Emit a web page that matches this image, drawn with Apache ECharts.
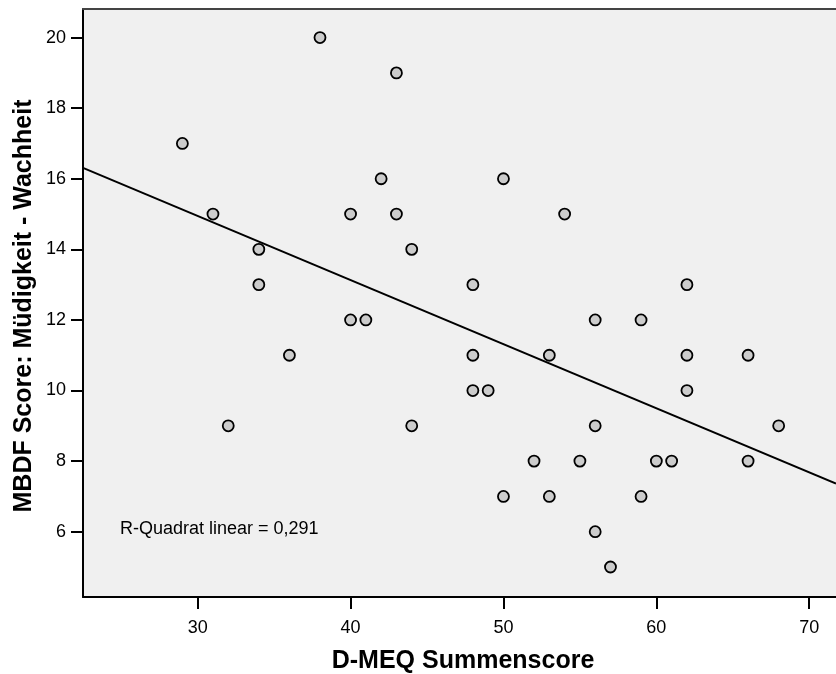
<!DOCTYPE html>
<html>
<head>
<meta charset="utf-8">
<script src="https://cdn.jsdelivr.net/npm/echarts@6/dist/echarts.min.js"></script>
<style>html,body{margin:0;padding:0;background:#fff;}#c{width:836px;height:674px;}</style>
</head>
<body>
<div id="c"></div>
<script>
// D-MEQ Summenscore (x) and MBDF Score: Müdigkeit - Wachheit (y)
var meqScores = [29,31,32,34,34,36,38,40,40,41,42,43,43,44,44,48,48,48,49,50,50,52,53,53,54,55,56,56,56,57,59,59,60,61,62,62,62,66,66,68];
var mbdfScores = [17,15,9,14,13,11,20,15,12,12,16,19,15,14,9,13,11,10,10,16,7,8,11,7,15,8,12,9,6,5,12,7,8,8,13,11,10,11,8,9];
var xTicks = [30,40,50,60,70];
var yTicks = [6,8,10,12,14,16,18,20];
var xTitle = 'D-MEQ Summenscore';
var yTitle = 'MBDF Score: Müdigkeit - Wachheit';
var r2Label = 'R-Quadrat linear = 0,291';

var xMin = 22.5, xMax = 71.75, yMin = 4.15, yMax = 20.81;

var points = meqScores.map(function (x, i) { return [x, mbdfScores[i]]; });
// least-squares fit
var n = points.length, sx = 0, sy = 0, sxx = 0, sxy = 0;
points.forEach(function (p) { sx += p[0]; sy += p[1]; sxx += p[0]*p[0]; sxy += p[0]*p[1]; });
var slope = (n*sxy - sx*sy) / (n*sxx - sx*sx);
var icpt = (sy - slope*sx) / n;
var fitLine = [[xMin, icpt + slope*xMin], [xMax, icpt + slope*xMax]];

var FONT = 'Liberation Sans, Arial, Helvetica, sans-serif';
var chart = echarts.init(document.getElementById('c'), null, {renderer: 'canvas'});
chart.setOption({
  animation: false,
  backgroundColor: '#ffffff',
  grid: [{left: 83, top: 9, right: 0, bottom: 77, show: true, backgroundColor: '#f0f0f0', borderWidth: 0, containLabel: false}],
  xAxis: [{
    type: 'value', min: xMin, max: xMax, position: 'bottom',
    axisLine: {show: true, onZero: false, lineStyle: {color: '#000', width: 2}},
    axisTick: {show: true, length: 12, lineStyle: {color: '#000', width: 2}, customValues: xTicks},
    axisLabel: {show: true, margin: 22, color: '#000', fontSize: 18, fontFamily: FONT, customValues: xTicks},
    splitLine: {show: false}
  }, {
    type: 'value', min: xMin, max: xMax, position: 'top',
    axisLine: {show: true, onZero: false, lineStyle: {color: '#444', width: 2}},
    axisTick: {show: false}, axisLabel: {show: false}, splitLine: {show: false}
  }],
  yAxis: [{
    type: 'value', min: yMin, max: yMax,
    axisLine: {show: true, onZero: false, lineStyle: {color: '#000', width: 2}},
    axisTick: {show: true, length: 12, lineStyle: {color: '#000', width: 2}, customValues: yTicks},
    axisLabel: {show: true, margin: 17, color: '#000', fontSize: 18, fontFamily: FONT, customValues: yTicks},
    splitLine: {show: false}
  }],
  series: [{
    type: 'line', data: fitLine, symbol: 'none', silent: true,
    lineStyle: {color: '#000', width: 2}, z: 2
  }, {
    type: 'scatter', data: points, symbol: 'circle', symbolSize: 11,
    itemStyle: {color: '#cccccc', borderColor: '#000', borderWidth: 1.8, opacity: 1}, z: 3
  }],
  graphic: [{
    type: 'text', left: 120, top: 520,
    style: {text: r2Label, font: '18px ' + FONT, fill: '#000'}
  }, {
    type: 'text', x: 463, y: 661,
    style: {text: xTitle, font: 'bold 25px ' + FONT, fill: '#000', textAlign: 'center', textVerticalAlign: 'middle'}
  }, {
    type: 'text', x: 24, y: 306, rotation: Math.PI/2,
    style: {text: yTitle, font: 'bold 25px ' + FONT, fill: '#000', textAlign: 'center', textVerticalAlign: 'middle'}
  }]
});
</script>
</body>
</html>
